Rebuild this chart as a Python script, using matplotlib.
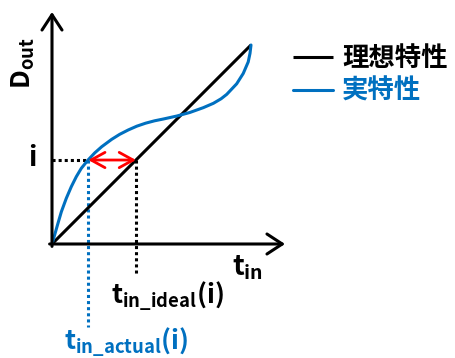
import numpy as np
import matplotlib
matplotlib.use("Agg")
import matplotlib.pyplot as plt

plt.rcParams['font.family'] = ['Noto Sans CJK JP', 'DejaVu Sans']
plt.rcParams['font.weight'] = 'bold'
plt.rcParams['mathtext.fontset'] = 'custom'
plt.rcParams['mathtext.rm'] = 'Noto Sans CJK JP:bold'
plt.rcParams['mathtext.it'] = 'Noto Sans CJK JP:bold'
plt.rcParams['mathtext.bf'] = 'Noto Sans CJK JP:bold'

BLUE = '#0070C0'
RED = '#FF0000'

# ideal characteristic (straight line), normalised t_in -> D_out
ideal_t = [0.0, 1.0]
ideal_d = [0.0, 1.0]

# actual characteristic
actual_t = [0.0, 0.014, 0.030, 0.047, 0.072, 0.097, 0.122, 0.147, 0.181,
            0.215, 0.250, 0.300, 0.340, 0.383, 0.426, 0.470, 0.515, 0.559,
            0.627, 0.693, 0.760, 0.811, 0.850, 0.878, 0.928, 0.961, 0.986,
            0.995, 1.0]
actual_d = [0.0, 0.048, 0.104, 0.162, 0.230, 0.288, 0.338, 0.380, 0.422,
            0.458, 0.489, 0.526, 0.551, 0.573, 0.592, 0.607, 0.619, 0.628,
            0.643, 0.661, 0.685, 0.707, 0.730, 0.752, 0.805, 0.857, 0.915,
            0.958, 1.0]

level_i = 0.422      # output level i
t_actual = 0.182     # t_in_actual(i)
t_ideal = 0.422      # t_in_ideal(i)

fig = plt.figure(figsize=(4.56, 3.58), dpi=100)
ax = fig.add_axes([0, 0, 1, 1])
ax.set_xlim(-52 / 199, (456 - 52) / 199)
ax.set_ylim((244 - 358) / 199, 244 / 199)
ax.axis('off')

# axes with open arrow heads
arrow_kw = dict(arrowstyle='->,head_length=1.1,head_width=0.72', lw=2.2,
                color='black', mutation_scale=10, shrinkA=0, shrinkB=0)
ax.annotate('', xy=(0, 1.166), xytext=(0, -0.012), arrowprops=arrow_kw)
ax.annotate('', xy=(1.171, 0), xytext=(-0.012, 0), arrowprops=arrow_kw)

# dotted guides
dot = (0, (1, 1))
ax.plot([0, t_actual], [level_i, level_i], color='black', lw=2.2, ls=dot)
ax.plot([t_ideal, t_ideal], [level_i, -0.156], color='black', lw=2.2, ls=dot)
ax.plot([t_actual, t_actual], [level_i, -0.417], color=BLUE, lw=2.2, ls=dot)

ax.plot(ideal_t, ideal_d, color='black', lw=2.2, label='理想特性',
        solid_capstyle='butt')
ax.plot(actual_t, actual_d, color=BLUE, lw=2.2, label='実特性',
        solid_joinstyle='round', solid_capstyle='round')

# red double arrow between actual and ideal
ax.annotate('', xy=(t_ideal, level_i), xytext=(t_actual, level_i),
            arrowprops=dict(arrowstyle='<->,head_length=1.0,head_width=0.55',
                            lw=2.0, color=RED, mutation_scale=10,
                            shrinkA=0, shrinkB=0))

# labels
ax.text(-0.146, 0.910, r'$\mathrm{D_{out}}$', rotation=90, fontsize=19,
        ha='center', va='center')
ax.text(-0.101, 0.432, 'i', fontsize=20, ha='center', va='center')
ax.text(0.980, -0.121, r'$\mathrm{t_{in}}$', fontsize=20, ha='center',
        va='center')
ax.text(0.580, -0.261, r'$\mathrm{t_{in\_ideal}}$(i)', fontsize=19,
        ha='center', va='center')
ax.text(0.374, -0.492, r'$\mathrm{t_{in\_actual}}$(i)', fontsize=19,
        ha='center', va='center', color=BLUE)

leg = ax.legend(loc='upper left', bbox_to_anchor=(293 / 456, 1 - 45 / 358),
                frameon=False, borderpad=0, borderaxespad=0,
                handlelength=1.52, handletextpad=0.34, labelspacing=0.22,
                prop={'family': 'Noto Sans CJK JP', 'weight': 'bold',
                      'size': 19},
                labelcolor='linecolor')

fig.savefig('out.png', dpi=100)
